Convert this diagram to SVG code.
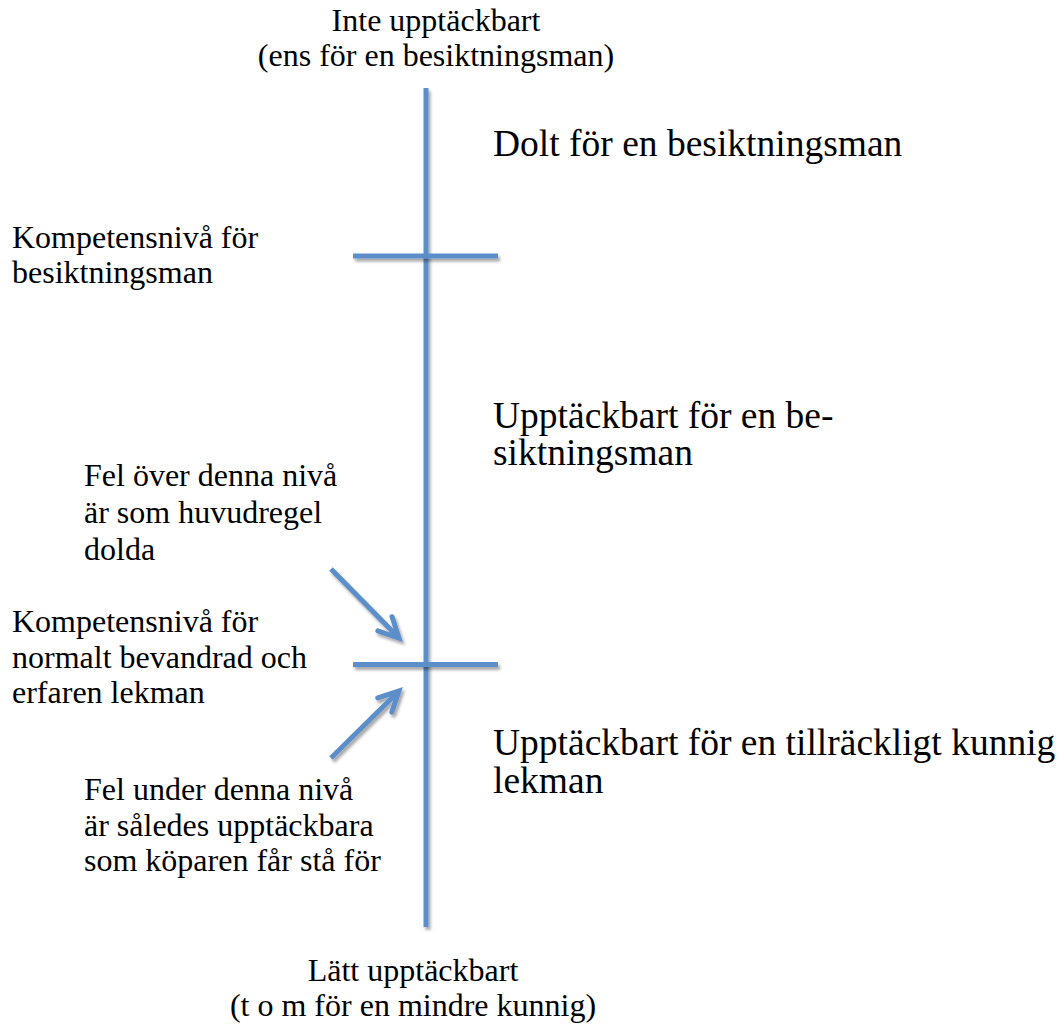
<svg xmlns="http://www.w3.org/2000/svg" width="1060" height="1026" viewBox="0 0 1060 1026">
  <style>
    .t { font-family: "Liberation Serif", "Times New Roman", serif; fill: #000; }
    .s { font-size: 32px; }
    .b { font-size: 37.5px; }
    .ln { stroke: #5b8fc9; stroke-width: 5; fill: none; }
  </style>
  <defs>
    <filter id="sh" filterUnits="userSpaceOnUse" x="0" y="0" width="1060" height="1026">
      <feDropShadow dx="2" dy="3" stdDeviation="1.5" flood-color="#000" flood-opacity="0.35"/>
    </filter>
    <marker id="ah" markerUnits="userSpaceOnUse" orient="auto" markerWidth="40" markerHeight="40" viewBox="-30 -20 40 40" refX="0" refY="0" overflow="visible">
      <path d="M-20,-10 L0,0 L-20,10" fill="none" stroke="#5b8fc9" stroke-width="5" stroke-linecap="round" stroke-linejoin="miter"/>
    </marker>
  </defs>

  <g id="connectors">
    <line id="axis" class="ln" x1="426" y1="88" x2="426" y2="927" filter="url(#sh)"/>
    <line id="level-besiktningsman" class="ln" x1="353" y1="256" x2="498" y2="256" filter="url(#sh)"/>
    <line id="level-lekman" class="ln" x1="353" y1="664.5" x2="498" y2="664.5" filter="url(#sh)"/>
    <line id="arrow-above" class="ln" x1="331" y1="569" x2="399" y2="638" marker-end="url(#ah)" filter="url(#sh)"/>
    <line id="arrow-below" class="ln" x1="331" y1="758" x2="399" y2="691" marker-end="url(#ah)" filter="url(#sh)"/>
  </g>

  <g id="top-label">
    <text class="t s" x="436" y="31" text-anchor="middle">Inte upptäckbart</text>
    <text class="t s" x="436" y="66" text-anchor="middle">(ens för en besiktningsman)</text>
  </g>

  <g id="bottom-label">
    <text class="t s" x="413" y="981" text-anchor="middle">Lätt upptäckbart</text>
    <text class="t s" x="413" y="1016" text-anchor="middle">(t o m för en mindre kunnig)</text>
  </g>

  <g id="zone-dolt">
    <text class="t b" x="493" y="156">Dolt för en besiktningsman</text>
  </g>

  <g id="zone-besiktningsman">
    <text class="t b" x="493" y="428">Upptäckbart för en be-</text>
    <text class="t b" x="493" y="465">siktningsman</text>
  </g>

  <g id="zone-lekman">
    <text class="t b" x="493" y="755">Upptäckbart för en tillräckligt kunnig</text>
    <text class="t b" x="493" y="793">lekman</text>
  </g>

  <g id="label-kompetens-besiktningsman">
    <text class="t s" x="12" y="248">Kompetensnivå för</text>
    <text class="t s" x="12" y="283">besiktningsman</text>
  </g>

  <g id="label-fel-over">
    <text class="t s" x="84" y="486">Fel över denna nivå</text>
    <text class="t s" x="84" y="523">är som huvudregel</text>
    <text class="t s" x="84" y="560">dolda</text>
  </g>

  <g id="label-kompetens-lekman">
    <text class="t s" x="12" y="632">Kompetensnivå för</text>
    <text class="t s" x="12" y="668">normalt bevandrad och</text>
    <text class="t s" x="12" y="703">erfaren lekman</text>
  </g>

  <g id="label-fel-under">
    <text class="t s" x="84" y="800">Fel under denna nivå</text>
    <text class="t s" x="84" y="836">är således upptäckbara</text>
    <text class="t s" x="84" y="871">som köparen får stå för</text>
  </g>
</svg>
